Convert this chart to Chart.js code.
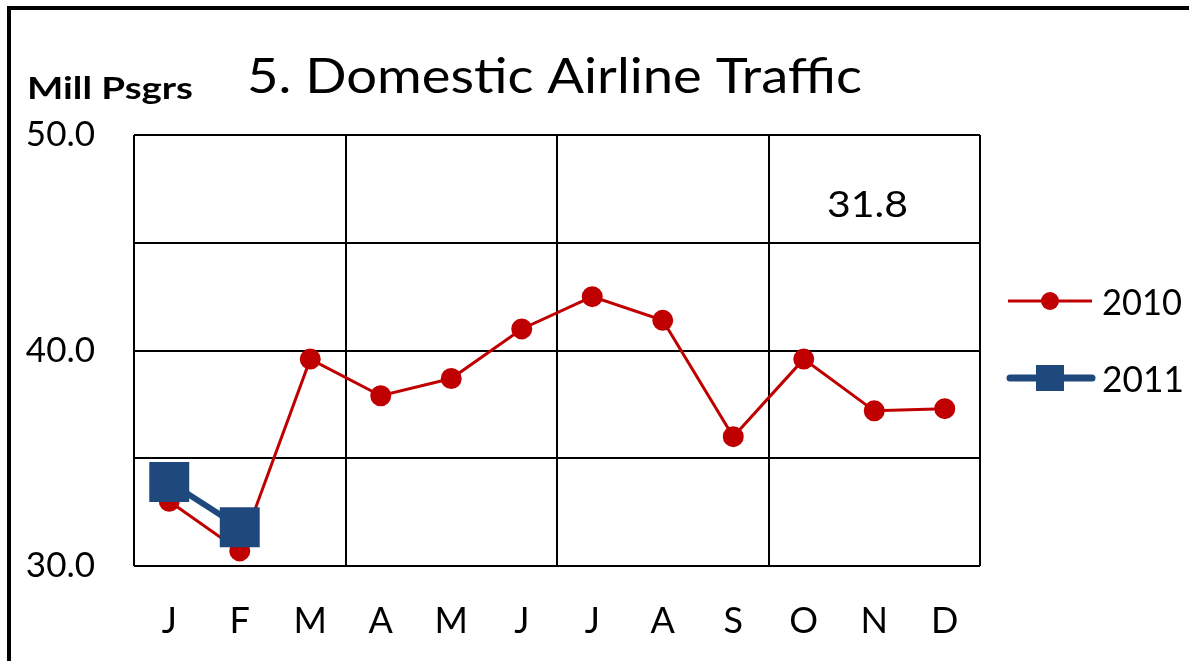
<!DOCTYPE html>
<html>
<head>
<meta charset="utf-8">
<title>Domestic Airline Traffic</title>
<script src="https://cdn.jsdelivr.net/npm/chart.js@4"></script>
<style>
  html, body { margin: 0; padding: 0; background: #fff; }
  #wrap { width: 1189px; height: 661px; position: relative; }
</style>
</head>
<body>
<div id="wrap"><canvas id="traffic-chart" width="1189" height="661"></canvas></div>
<script>
const months = ['J', 'F', 'M', 'A', 'M', 'J', 'J', 'A', 'S', 'O', 'N', 'D'];
const values2010 = [33.0, 30.7, 39.6, 37.9, 38.7, 41.0, 42.5, 41.4, 36.0, 39.6, 37.2, 37.3];
const values2011 = [33.9, 31.8, null, null, null, null, null, null, null, null, null, null];
const yTickLabels = [30, 40, 50];
const chartTitle = '5. Domestic Airline Traffic';
const unitLabel = 'Mill Psgrs';
const latestValue = '31.8';

const red = '#C00000';
const blue = '#1F497D';
const fontFamily = 'Lato, "Open Sans", sans-serif';

// the source picture is a bit stretched sideways, so text is fitted to a width
const drawFitted = (ctx, text, x, baseline, width) => {
    const measured = ctx.measureText(text).width;
    ctx.save();
    ctx.translate(x, baseline);
    ctx.scale(width / measured, 1);
    ctx.textAlign = 'left';
    ctx.textBaseline = 'alphabetic';
    ctx.fillText(text, 0, 0);
    ctx.restore();
};

// frame, title, note and legend drawn straight on the canvas
const decorPlugin = {
    id: 'decor',
    beforeDraw: (chart) => {
        const ctx = chart.ctx;
        ctx.save();
        ctx.fillStyle = '#fff';
        ctx.fillRect(0, 0, chart.width, chart.height);
        ctx.fillStyle = '#000';
        ctx.fillRect(7, 6, chart.width - 7, 4);
        ctx.fillRect(7, 6, 4, chart.height - 6);
        ctx.restore();
    },
    afterDraw: (chart) => {
        const ctx = chart.ctx;
        ctx.save();
        ctx.fillStyle = '#000';

        ctx.font = `48px ${fontFamily}`;
        drawFitted(ctx, chartTitle, 247, 93, 615);

        ctx.font = `bold 31px ${fontFamily}`;
        drawFitted(ctx, unitLabel, 27, 99, 166);

        ctx.font = `37px ${fontFamily}`;
        drawFitted(ctx, latestValue, 827, 217, 81);

        // legend
        ctx.lineCap = 'butt';
        ctx.strokeStyle = red;
        ctx.lineWidth = 3;
        ctx.beginPath();
        ctx.moveTo(1008, 301);
        ctx.lineTo(1092, 301);
        ctx.stroke();
        ctx.fillStyle = red;
        ctx.beginPath();
        ctx.arc(1050, 301, 9, 0, Math.PI * 2);
        ctx.fill();

        ctx.strokeStyle = blue;
        ctx.lineWidth = 7;
        ctx.lineCap = 'round';
        ctx.beginPath();
        ctx.moveTo(1010, 378);
        ctx.lineTo(1092, 378);
        ctx.stroke();
        ctx.fillStyle = blue;
        ctx.fillRect(1036, 365, 28, 26);

        ctx.fillStyle = '#000';
        ctx.font = `37px ${fontFamily}`;
        drawFitted(ctx, '2010', 1102, 315, 80);
        drawFitted(ctx, '2011', 1102, 392, 82);
        ctx.restore();
    }
};

const chart = new Chart(document.getElementById('traffic-chart'), {
    type: 'line',
    data: {
        labels: months,
        datasets: [
            {
                label: '2011',
                data: values2011,
                borderColor: blue,
                backgroundColor: blue,
                borderWidth: 6,
                pointStyle: 'rect',
                pointRadius: 24,
                pointHoverRadius: 24,
                spanGaps: false,
                order: 0
            },
            {
                label: '2010',
                data: values2010,
                borderColor: red,
                backgroundColor: red,
                borderWidth: 3,
                pointStyle: 'circle',
                pointRadius: 9,
                pointHoverRadius: 9,
                order: 1
            }
        ]
    },
    options: {
        responsive: false,
        animation: false,
        layout: { padding: { left: 10, top: 135, right: 209, bottom: 0 } },
        plugins: {
            legend: { display: false },
            title: { display: false },
            tooltip: { enabled: false }
        },
        scales: {
            x: {
                offset: true,
                afterFit: (scale) => { scale.height = 95; },
                grid: {
                    offset: true,
                    drawTicks: false,
                    lineWidth: 2,
                    color: (c) => (c.index === undefined || c.index % 3 === 0) ? '#000' : 'rgba(0,0,0,0)'
                },
                border: { display: false },
                ticks: {
                    color: '#000',
                    padding: 34,
                    maxRotation: 0,
                    font: { family: fontFamily, size: 36 }
                }
            },
            y: {
                min: 30,
                max: 50,
                afterFit: (scale) => { scale.width = 124; },
                afterBuildTicks: (scale) => {
                    scale.ticks = [30, 35, 40, 45, 50].map(v => ({ value: v }));
                },
                grid: { drawTicks: false, lineWidth: 2, color: '#000' },
                border: { display: false },
                ticks: {
                    color: '#000',
                    padding: 39,
                    font: { family: fontFamily, size: 35 },
                    callback: (v) => yTickLabels.includes(v) ? v.toFixed(1) : ''
                }
            }
        }
    },
    plugins: [decorPlugin]
});
</script>
</body>
</html>
